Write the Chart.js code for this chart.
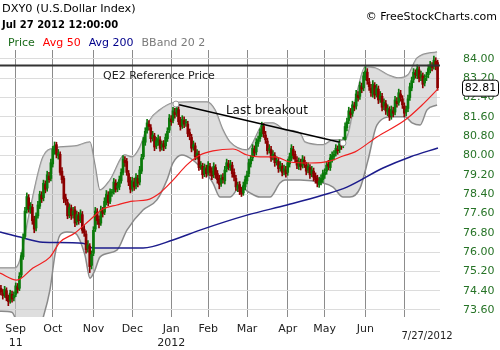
<!DOCTYPE html>
<html>
<head>
<meta charset="utf-8">
<script src="https://cdn.jsdelivr.net/npm/chart.js@4.4.1/dist/chart.umd.min.js"></script>
<style>
  html, body { margin: 0; padding: 0; background: #fff; }
  #wrap { width: 500px; height: 350px; }
</style>
</head>
<body>
<div id="wrap"><canvas id="c" width="500" height="350"></canvas></div>
<script>
// daily bars, Aug 2011 .. Jul 27 2012 (x = trading-day index)
const opens = [
  74.50, 74.30, 74.25, 74.40, 74.10, 74.00, 74.25, 74.10, 74.25, 74.55,
  74.50, 75.05, 75.80, 76.65, 77.75, 78.25, 77.75, 77.85, 77.35, 77.00,
  77.50, 77.90, 78.35, 78.25, 78.80, 78.65, 79.15, 79.05, 79.65, 80.20,
  80.45, 80.00, 80.05, 79.35, 79.05, 78.25, 78.05, 77.55, 77.80, 77.55,
  77.75, 77.25, 77.50, 77.35, 77.55, 76.95, 76.75, 76.15, 76.25, 75.45,
  75.95, 76.95, 77.65, 77.35, 77.20, 77.70, 77.65, 78.05, 78.35, 78.10,
  78.45, 78.50, 78.85, 78.65, 78.70, 78.95, 79.30, 79.80, 79.75, 79.25,
  78.95, 78.65, 78.90, 78.75, 79.05, 78.90, 79.35, 79.95, 80.55, 81.05,
  81.30, 81.15, 80.75, 80.80, 80.40, 80.55, 80.65, 80.35, 80.50, 80.40,
  80.70, 81.05, 81.50, 81.45, 81.80, 81.75, 81.90, 81.45, 81.25, 81.45,
  81.35, 81.30, 80.95, 80.75, 80.35, 80.40, 80.00, 80.05, 79.55, 79.55,
  79.25, 79.45, 79.30, 79.55, 79.35, 79.20, 79.50, 79.25, 79.05, 78.85,
  79.10, 78.95, 79.45, 79.65, 79.50, 79.60, 79.30, 79.05, 78.65, 78.80,
  78.55, 78.45, 78.70, 78.95, 79.25, 79.65, 79.90, 80.25, 80.15, 80.50,
  80.70, 80.90, 81.20, 80.85, 80.60, 80.25, 80.25, 79.95, 80.00, 79.75,
  79.75, 79.50, 79.55, 79.35, 79.40, 79.30, 79.65, 79.90, 80.25, 80.05,
  79.80, 79.55, 79.70, 79.60, 79.80, 79.60, 79.40, 79.50, 79.25, 79.35,
  79.15, 79.05, 78.80, 78.90, 79.00, 79.20, 79.35, 79.65, 79.50, 79.85,
  79.95, 80.10, 80.25, 80.25, 80.45, 80.45, 80.65, 81.15, 81.45, 81.80,
  81.75, 82.05, 82.05, 82.50, 82.45, 82.85, 82.80, 83.25, 83.45, 83.05,
  82.80, 82.55, 82.90, 82.55, 82.75, 82.35, 82.45, 82.05, 82.15, 81.80,
  81.90, 81.65, 81.85, 81.80, 82.25, 82.20, 82.55, 82.35, 82.05, 81.80,
  81.95, 82.40, 82.80, 83.15, 83.40, 83.30, 83.55, 83.25, 83.30, 83.00,
  83.25, 83.35, 83.55, 83.70, 83.70, 83.90, 83.85
];
const highs = [
  74.62, 74.45, 74.58, 74.52, 74.22, 74.42, 74.38, 74.35, 74.72, 74.70,
  75.15, 75.98, 76.75, 77.85, 78.45, 78.38, 78.05, 77.98, 77.48, 77.62,
  78.10, 78.52, 78.50, 78.98, 78.95, 79.35, 79.30, 79.85, 80.38, 80.56,
  80.55, 80.25, 80.15, 79.50, 79.15, 78.40, 78.18, 78.00, 77.95, 77.85,
  77.88, 77.70, 77.65, 77.75, 77.68, 77.10, 76.88, 76.48, 76.35, 76.05,
  77.05, 77.85, 77.80, 77.50, 77.90, 77.85, 78.25, 78.55, 78.50, 78.62,
  78.60, 79.05, 79.00, 78.90, 79.15, 79.45, 80.00, 79.95, 79.88, 79.38,
  79.10, 79.10, 79.05, 79.25, 79.18, 79.55, 80.05, 80.75, 81.15, 81.50,
  81.45, 81.28, 81.00, 80.92, 80.75, 80.85, 80.78, 80.60, 80.62, 80.90,
  81.15, 81.70, 81.65, 82.00, 81.95, 82.13, 82.02, 81.58, 81.65, 81.60,
  81.50, 81.42, 81.10, 80.88, 80.60, 80.52, 80.25, 80.18, 79.75, 79.68,
  79.65, 79.60, 79.75, 79.68, 79.50, 79.70, 79.62, 79.38, 79.18, 79.20,
  79.25, 79.55, 79.85, 79.80, 79.80, 79.72, 79.45, 79.18, 78.90, 78.92,
  78.68, 78.90, 79.15, 79.35, 79.85, 80.00, 80.45, 80.40, 80.70, 80.80,
  81.10, 81.38, 81.32, 81.00, 80.72, 80.45, 80.38, 80.20, 80.12, 79.95,
  79.88, 79.75, 79.68, 79.60, 79.55, 79.85, 80.10, 80.45, 80.38, 80.18,
  79.95, 79.90, 79.85, 80.00, 79.95, 79.72, 79.70, 79.62, 79.55, 79.48,
  79.28, 79.18, 79.10, 79.20, 79.40, 79.45, 79.75, 79.80, 80.05, 80.15,
  80.20, 80.45, 80.40, 80.65, 80.60, 80.75, 81.35, 81.55, 82.00, 81.95,
  82.25, 82.20, 82.70, 82.65, 83.05, 83.00, 83.45, 83.68, 83.60, 83.20,
  82.95, 83.10, 83.02, 82.95, 82.88, 82.65, 82.58, 82.35, 82.28, 82.10,
  82.02, 82.05, 82.00, 82.45, 82.40, 82.75, 82.70, 82.48, 82.18, 82.05,
  82.50, 83.00, 83.25, 83.60, 83.55, 83.75, 83.68, 83.50, 83.42, 83.35,
  83.45, 83.75, 83.90, 83.85, 84.12, 84.05, 83.95
];
const lows = [
  74.22, 74.05, 74.12, 73.98, 73.78, 73.88, 73.92, 73.98, 74.15, 74.30,
  74.40, 74.95, 75.70, 76.55, 77.62, 77.65, 77.60, 77.15, 76.80, 76.88,
  77.40, 77.80, 78.05, 78.12, 78.45, 78.52, 78.88, 78.95, 79.52, 80.05,
  79.90, 79.85, 79.18, 78.85, 78.05, 77.95, 77.38, 77.42, 77.35, 77.40,
  77.05, 77.12, 77.15, 77.22, 76.78, 76.65, 75.95, 76.00, 75.15, 75.30,
  75.85, 76.85, 77.15, 77.00, 77.10, 77.45, 77.55, 77.95, 77.92, 78.00,
  78.30, 78.40, 78.48, 78.50, 78.58, 78.85, 79.20, 79.55, 79.18, 78.75,
  78.45, 78.52, 78.55, 78.62, 78.70, 78.78, 79.25, 79.85, 80.42, 80.92,
  81.05, 80.55, 80.60, 80.20, 80.28, 80.42, 80.18, 80.22, 80.20, 80.28,
  80.58, 80.95, 81.25, 81.35, 81.55, 81.62, 81.28, 81.05, 81.12, 81.15,
  81.20, 80.78, 80.65, 80.15, 80.22, 79.82, 79.85, 79.38, 79.42, 79.05,
  79.12, 79.10, 79.18, 79.15, 79.00, 79.08, 79.05, 78.85, 78.62, 78.72,
  78.85, 78.82, 79.32, 79.40, 79.38, 79.10, 78.95, 78.55, 78.50, 78.38,
  78.30, 78.35, 78.58, 78.82, 79.12, 79.52, 79.78, 79.95, 80.02, 80.38,
  80.58, 80.78, 80.75, 80.50, 80.05, 80.10, 79.75, 79.82, 79.55, 79.60,
  79.30, 79.35, 79.15, 79.20, 79.10, 79.18, 79.52, 79.78, 79.85, 79.70,
  79.45, 79.42, 79.40, 79.48, 79.50, 79.20, 79.28, 79.05, 79.12, 78.95,
  78.85, 78.70, 78.68, 78.78, 78.88, 79.05, 79.22, 79.40, 79.38, 79.72,
  79.82, 79.98, 80.05, 80.12, 80.25, 80.32, 80.52, 81.02, 81.32, 81.55,
  81.62, 81.85, 81.92, 82.25, 82.32, 82.60, 82.68, 83.12, 82.95, 82.70,
  82.45, 82.42, 82.35, 82.42, 82.15, 82.20, 81.85, 81.90, 81.70, 81.65,
  81.45, 81.50, 81.60, 81.68, 82.00, 82.08, 82.25, 81.95, 81.60, 81.65,
  81.82, 82.28, 82.68, 83.02, 83.20, 83.18, 83.05, 83.10, 82.80, 82.88,
  83.10, 83.22, 83.42, 83.50, 83.58, 83.55, 82.70
];
const closes = [
  74.34, 74.20, 74.45, 74.10, 73.95, 74.30, 74.05, 74.20, 74.60, 74.45,
  75.00, 75.85, 76.60, 77.70, 78.30, 77.80, 77.90, 77.30, 76.95, 77.50,
  77.95, 78.40, 78.20, 78.85, 78.60, 79.20, 79.00, 79.70, 80.25, 80.40,
  80.05, 80.10, 79.30, 79.00, 78.20, 78.10, 77.50, 77.85, 77.50, 77.70,
  77.20, 77.55, 77.30, 77.60, 76.90, 76.80, 76.10, 76.30, 75.40, 75.90,
  76.90, 77.70, 77.30, 77.15, 77.75, 77.60, 78.10, 78.40, 78.05, 78.50,
  78.45, 78.90, 78.60, 78.75, 79.00, 79.30, 79.85, 79.70, 79.30, 78.90,
  78.60, 78.95, 78.70, 79.10, 78.85, 79.40, 79.90, 80.60, 81.00, 81.35,
  81.20, 80.70, 80.85, 80.35, 80.60, 80.70, 80.30, 80.45, 80.35, 80.75,
  81.00, 81.55, 81.40, 81.85, 81.70, 81.95, 81.40, 81.20, 81.50, 81.30,
  81.35, 80.90, 80.80, 80.30, 80.45, 79.95, 80.10, 79.50, 79.60, 79.20,
  79.50, 79.25, 79.60, 79.30, 79.15, 79.55, 79.20, 79.00, 78.80, 79.05,
  79.00, 79.40, 79.70, 79.55, 79.65, 79.25, 79.10, 78.70, 78.75, 78.50,
  78.40, 78.75, 79.00, 79.20, 79.70, 79.85, 80.30, 80.10, 80.55, 80.65,
  80.95, 81.25, 80.90, 80.65, 80.20, 80.30, 79.90, 80.05, 79.70, 79.80,
  79.45, 79.60, 79.30, 79.45, 79.25, 79.70, 79.95, 80.30, 80.00, 79.85,
  79.60, 79.75, 79.55, 79.85, 79.65, 79.35, 79.55, 79.20, 79.40, 79.10,
  79.00, 78.85, 78.95, 79.05, 79.25, 79.30, 79.60, 79.55, 79.90, 80.00,
  80.05, 80.30, 80.20, 80.50, 80.40, 80.60, 81.20, 81.40, 81.85, 81.70,
  82.10, 82.00, 82.55, 82.40, 82.90, 82.75, 83.30, 83.50, 83.10, 82.85,
  82.60, 82.95, 82.50, 82.80, 82.30, 82.50, 82.00, 82.20, 81.85, 81.95,
  81.60, 81.90, 81.75, 82.30, 82.15, 82.60, 82.40, 82.10, 81.75, 81.90,
  82.35, 82.85, 83.10, 83.45, 83.35, 83.60, 83.20, 83.35, 82.95, 83.20,
  83.30, 83.60, 83.75, 83.65, 83.95, 83.70, 82.81
];

// x-axis: month gridlines at trading-day index
const monthTicks = [8, 28, 50, 71, 92, 112, 133, 155, 175, 197, 218];
const monthLabels = [["Sep", "11"], ["Oct"], ["Nov"], ["Dec"], ["Jan", "2012"], ["Feb"], ["Mar"], ["Apr"], ["May"], ["Jun"], [""]];
const lastDate = "7/27/2012";
const yTicks = [73.6, 74.4, 75.2, 76.0, 76.8, 77.6, 78.4, 79.2, 80.0, 80.8, 81.6, 82.4, 83.2, 84.0];

// overlays: [index, value]
const avg50 = [
  [-0.5, 75.13], [8.6, 74.84], [17.3, 75.34], [26.5, 75.79], [31.9, 76.41], [40.0, 76.79],
  [48.1, 77.33], [55.1, 77.78], [62.7, 77.95], [71.4, 78.11], [78.9, 78.16], [85.9, 78.45],
  [93.0, 78.98], [100.5, 79.61], [107.6, 80.02], [114.6, 80.19], [125.4, 80.27], [133.0, 80.02],
  [140.0, 79.94], [148.1, 79.94], [156.2, 79.73], [167.0, 79.69], [177.8, 79.77], [184.9, 79.98],
  [191.4, 80.15], [203.2, 80.77], [218.4, 81.47], [227.6, 82.09], [236.2, 82.76]
];
const avg200 = [
  [-0.5, 76.83], [10.3, 76.62], [22.7, 76.41], [44.3, 76.37], [49.7, 76.17], [76.8, 76.17],
  [93.0, 76.50], [107.6, 76.91], [133.0, 77.53], [154.6, 77.95], [174.1, 78.36], [187.0, 78.69],
  [206.5, 79.48], [221.1, 79.94], [236.2, 80.31]
];
const bbUpper = [
  [-0.5, 75.34], [7.6, 75.34], [10.3, 75.67], [15.7, 77.74], [22.7, 79.94], [29.2, 80.31],
  [40.0, 80.39], [48.1, 80.56], [50.8, 79.61], [53.5, 78.57], [58.9, 78.98], [67.0, 80.02],
  [70.8, 79.94], [75.1, 80.35], [80.5, 81.47], [85.9, 81.89], [93.0, 82.18], [102.2, 82.22],
  [111.4, 82.22], [115.7, 81.89], [120.0, 81.06], [123.8, 80.56], [133.0, 80.23], [142.7, 81.35],
  [147.0, 81.35], [153.5, 81.06], [161.6, 80.93], [164.3, 80.56], [174.1, 80.44], [179.5, 80.64],
  [185.9, 80.64], [192.4, 82.59], [196.8, 83.67], [202.2, 83.63], [209.2, 83.34], [214.6, 83.21],
  [220.0, 83.34], [224.9, 84.04], [235.7, 84.29]
];
const bbLower = [
  [-0.5, 73.55], [5.9, 73.51], [8.6, 73.10], [13.0, 72.35], [18.4, 72.35], [22.7, 73.26],
  [26.5, 74.43], [29.2, 75.88], [31.9, 76.70], [35.7, 76.83], [40.0, 76.79], [45.4, 75.88],
  [48.1, 74.92], [50.8, 75.25], [53.5, 75.79], [62.7, 76.08], [68.1, 76.91], [76.8, 77.74],
  [84.3, 78.16], [89.7, 78.98], [93.0, 79.69], [97.8, 80.02], [103.8, 79.81], [109.2, 79.40],
  [114.6, 78.86], [118.4, 78.28], [123.8, 78.28], [129.2, 78.69], [134.6, 78.45], [140.0, 78.28],
  [145.4, 78.28], [150.8, 78.86], [153.5, 78.98], [161.6, 78.98], [174.1, 78.86], [179.5, 78.69],
  [184.9, 78.28], [188.6, 78.28], [194.1, 78.65], [198.4, 79.81], [203.2, 81.26], [211.4, 81.60],
  [218.4, 81.60], [222.2, 81.35], [226.5, 81.26], [230.3, 81.89], [235.7, 82.09]
];
const qe2Price = 83.73;
const breakout = [[94.6, 82.13], [184.9, 80.52]];

const FONT = '"DejaVu Sans", Verdana, sans-serif';
const UP = "#0b7a0b", DOWN = "#8b0000";
const pts = arr => arr.map(p => ({ x: p[0], y: p[1] }));
const isUp = i => closes[i] >= opens[i];

const wicks = closes.map((c, i) => ({ x: i, y: [lows[i], highs[i]] }));
const bodies = closes.map((c, i) => ({ x: i, y: [Math.min(opens[i], c), Math.max(opens[i], c)] }));

// header, notes and price box
const notes = {
  id: "notes",
  afterDraw(chart) {
    const { ctx } = chart;
    const xs = chart.scales.x, ys = chart.scales.y;
    ctx.save();
    ctx.textBaseline = "middle";
    ctx.textAlign = "left";
    ctx.fillStyle = "#000";
    ctx.font = "11.3px " + FONT;
    ctx.fillText("DXY0 (U.S.Dollar Index)", 2, 9);
    ctx.font = "bold 10px " + FONT;
    ctx.fillText("Jul 27 2012 12:00:00", 2, 25);

    ctx.font = "11px " + FONT;
    let lx = 8;
    [["Price", "#1a6b1a"], ["Avg 50", "#ff0000"], ["Avg 200", "#00008b"], ["BBand 20 2", "#7a7a7a"]].forEach(([t, col]) => {
      ctx.fillStyle = col;
      ctx.fillText(t, lx, 43);
      lx += ctx.measureText(t).width + 8;
    });

    ctx.fillStyle = "#000";
    ctx.textAlign = "right";
    ctx.fillText("\u00a9 FreeStockCharts.com", 497, 17);

    ctx.textAlign = "left";
    ctx.fillStyle = "#222";
    ctx.fillText("QE2 Reference Price", xs.getPixelForValue(55.2), ys.getPixelForValue(83.27));
    ctx.font = "12px " + FONT;
    ctx.fillStyle = "#111";
    ctx.fillText("Last breakout", xs.getPixelForValue(121.6), ys.getPixelForValue(81.84));

    ctx.font = "10px " + FONT;
    ctx.textAlign = "center";
    ctx.fillStyle = "#222";
    ctx.fillText(lastDate, xs.getPixelForValue(230.3), 336);

    // last price box
    const last = closes[closes.length - 1];
    const py = ys.getPixelForValue(last);
    ctx.font = "11px " + FONT;
    ctx.fillStyle = "#fff";
    ctx.strokeStyle = "#000";
    ctx.lineWidth = 1;
    ctx.beginPath();
    ctx.roundRect(462.5, py - 7.5, 36, 16, 3);
    ctx.fill();
    ctx.stroke();
    ctx.fillStyle = "#000";
    ctx.fillText(last.toFixed(2), 480.5, py + 0.5);
    ctx.restore();
  }
};

new Chart(document.getElementById("c"), {
  data: {
    datasets: [
      { type: "line", label: "BB upper", data: pts(bbUpper), borderColor: "#8a8a8a", borderWidth: 1.5,
        pointRadius: 0, cubicInterpolationMode: "monotone", fill: false, order: 10 },
      { type: "line", label: "BB lower", data: pts(bbLower), borderColor: "#8a8a8a", borderWidth: 1.5,
        pointRadius: 0, cubicInterpolationMode: "monotone", fill: "-1", backgroundColor: "rgba(200,200,200,0.6)", order: 9 },
      { type: "line", label: "Avg 200", data: pts(avg200), borderColor: "#1c1c8c", borderWidth: 1.5,
        pointRadius: 0, cubicInterpolationMode: "monotone", order: 8 },
      { type: "bar", label: "wick", data: wicks, barThickness: 1, grouped: false,
        backgroundColor: ctx => isUp(ctx.dataIndex) ? UP : DOWN, order: 7 },
      { type: "bar", label: "body", data: bodies, barThickness: 2, grouped: false, minBarLength: 1,
        backgroundColor: ctx => isUp(ctx.dataIndex) ? UP : DOWN, order: 6 },
      { type: "line", label: "Avg 50", data: pts(avg50), borderColor: "#f02020", borderWidth: 1.2,
        pointRadius: 0, cubicInterpolationMode: "monotone", order: 5 },
      { type: "line", label: "QE2", data: [{ x: -0.5, y: qe2Price }, { x: 237.3, y: qe2Price }],
        borderColor: "#333", borderWidth: 2, pointRadius: 0, order: 2 },
      { type: "line", label: "breakout", data: pts(breakout), borderColor: "#000", borderWidth: 1.5,
        pointRadius: 3, pointBackgroundColor: "#fff", pointBorderColor: "#999", pointBorderWidth: 1, order: 1 }
    ]
  },
  options: {
    responsive: false,
    animation: false,
    events: [],
    layout: { autoPadding: false, padding: { top: 50, left: 0, right: 0, bottom: 0 } },
    plugins: { legend: { display: false }, tooltip: { enabled: false } },
    scales: {
      x: {
        type: "linear", min: -0.5, max: 237.3, offset: false,
        afterBuildTicks: s => { s.ticks = monthTicks.map(v => ({ value: v })); },
        afterFit: s => { s.height = 33; s.paddingLeft = 0; s.paddingRight = 0; },
        grid: { color: "#8c8c8c", drawTicks: false, offset: false },
        border: { display: false },
        ticks: {
          padding: 6, maxRotation: 0, autoSkip: false, color: "#222",
          font: { family: FONT, size: 11 },
          callback: (v, i) => monthLabels[i]
        }
      },
      y: {
        position: "right", min: 73.31, max: 84.37,
        afterBuildTicks: s => { s.ticks = yTicks.map(v => ({ value: v })); },
        afterFit: s => { s.width = 60; s.paddingTop = 0; s.paddingBottom = 0; },
        grid: { color: "#dcdcdc", drawTicks: false },
        border: { display: false },
        ticks: {
          padding: 23, autoSkip: false, color: "#267326",
          font: { family: FONT, size: 11 },
          callback: v => v.toFixed(2)
        }
      }
    }
  },
  plugins: [notes]
});
</script>
</body>
</html>
